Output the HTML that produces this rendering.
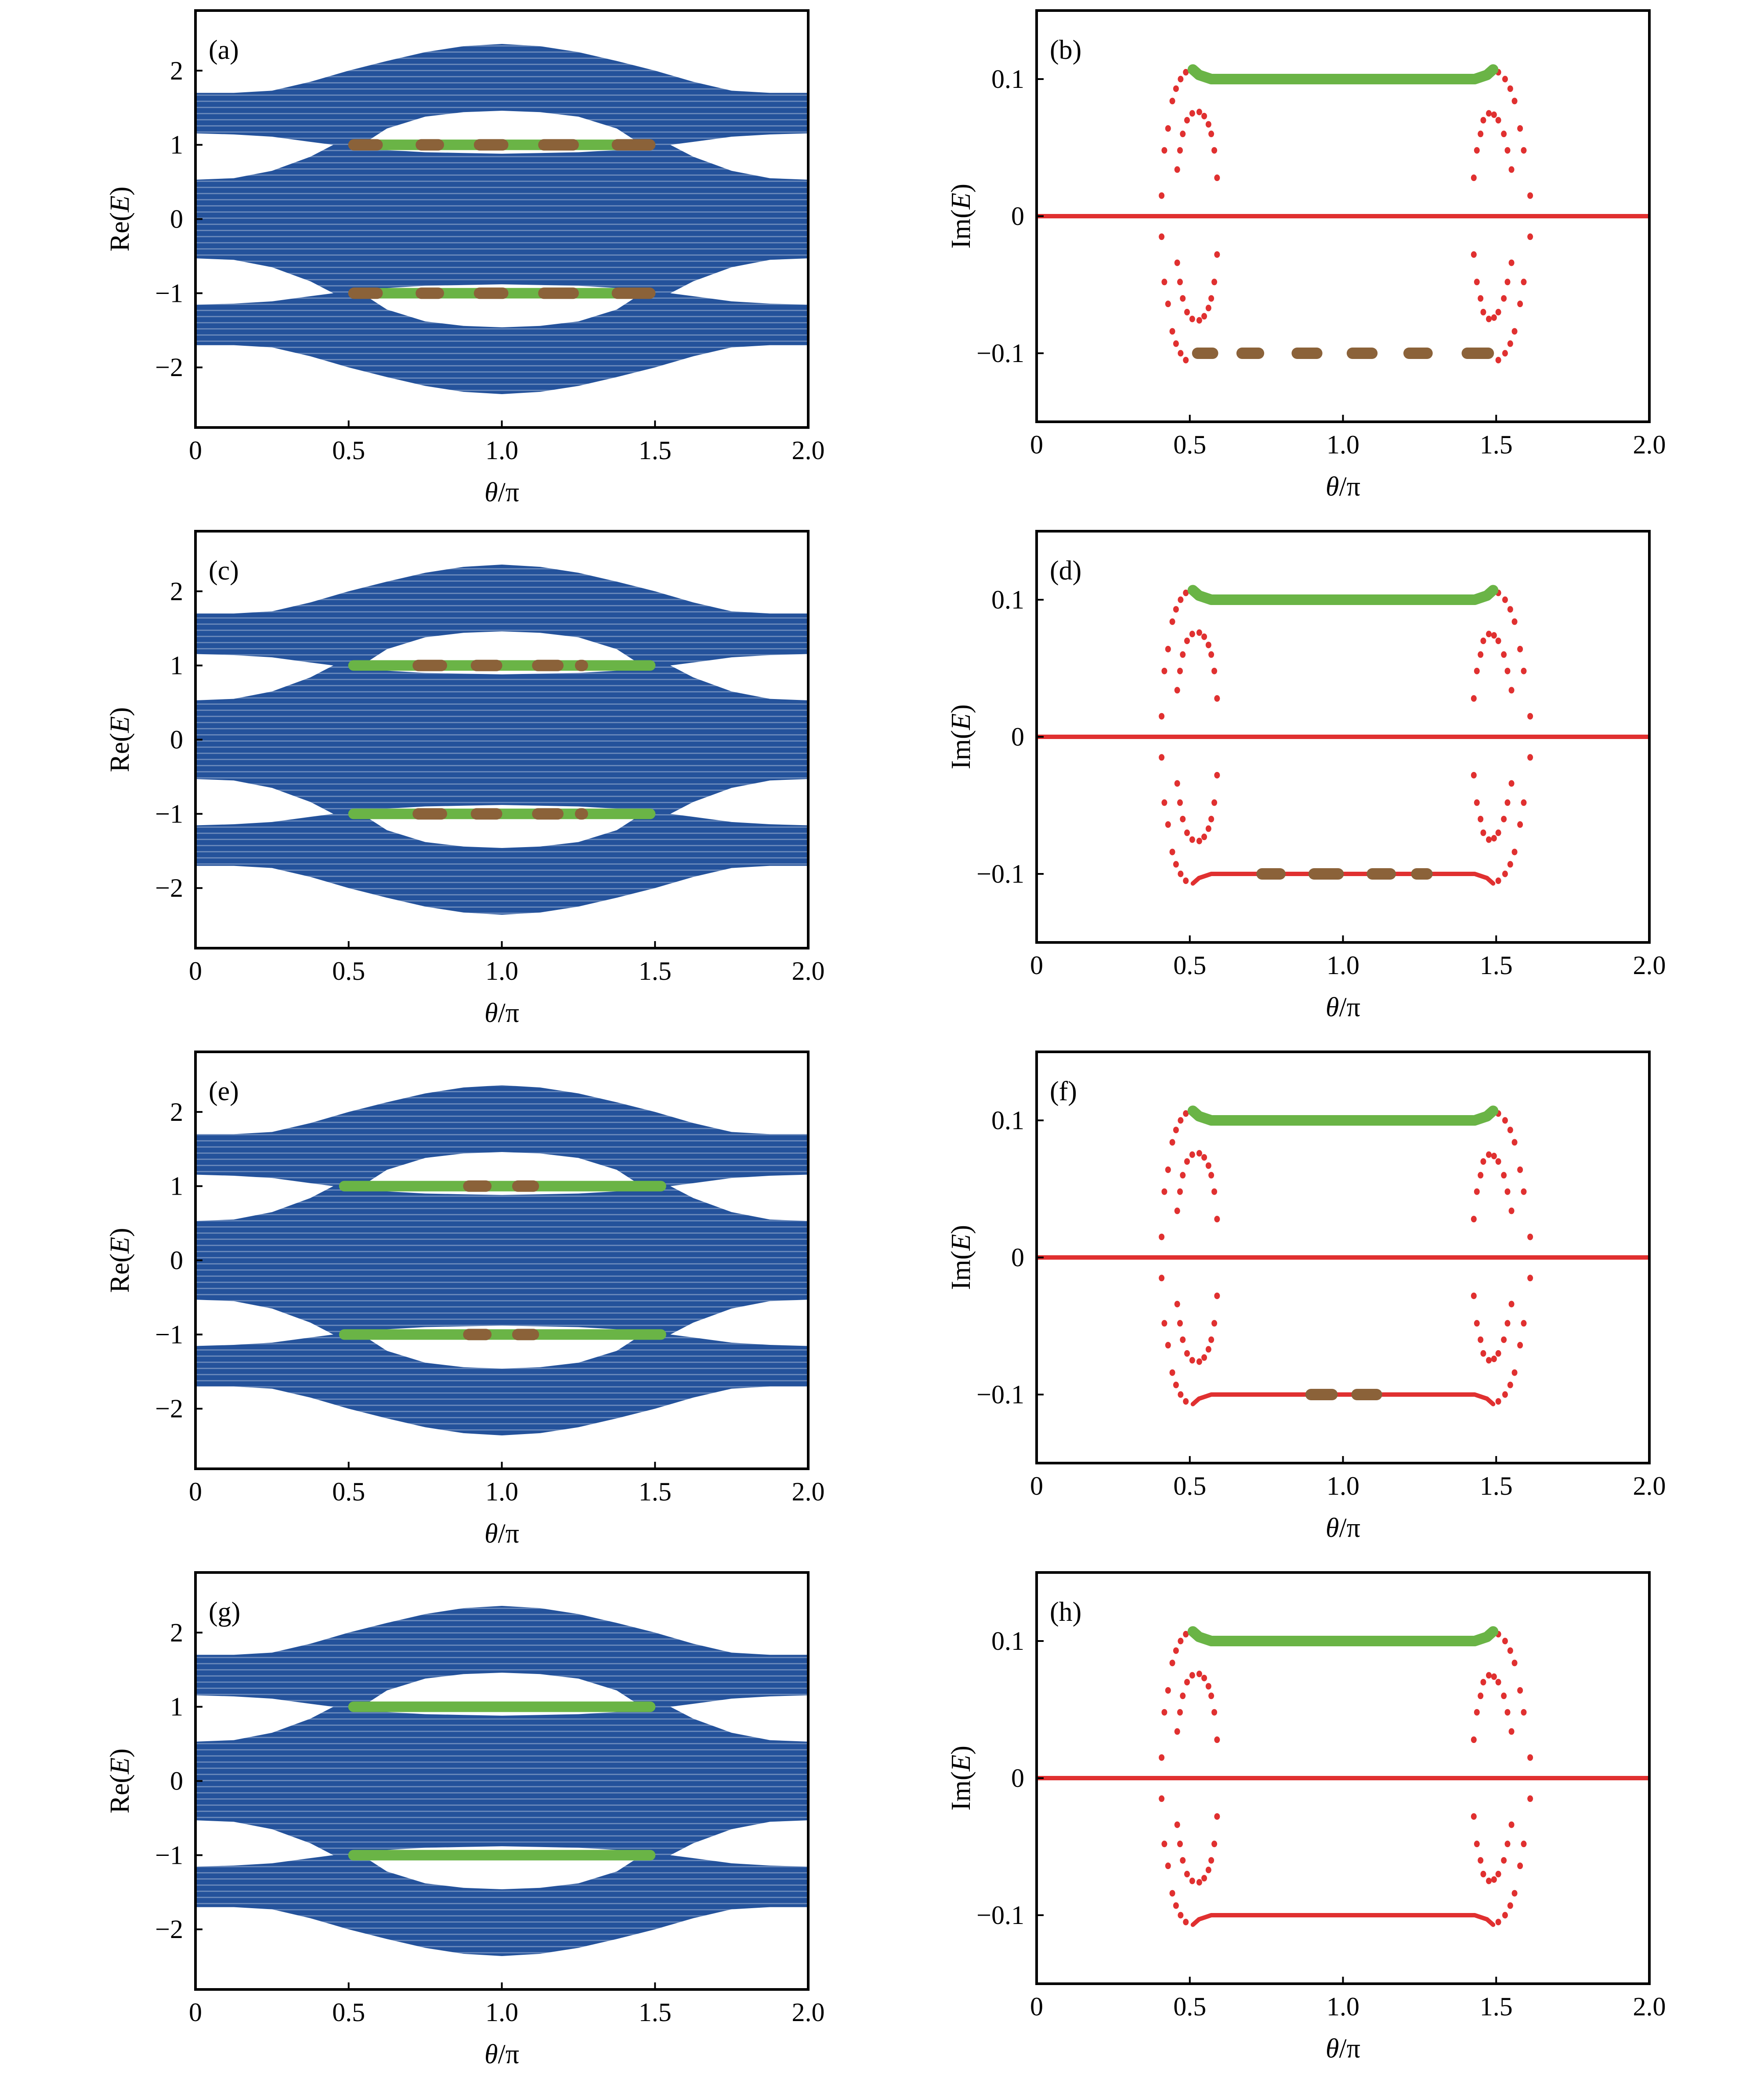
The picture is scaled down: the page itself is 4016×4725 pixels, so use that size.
<!DOCTYPE html>
<html><head><meta charset="utf-8"><style>
html,body{margin:0;padding:0;background:#fff;}
svg{display:block;}
text{font-family:"Liberation Serif","DejaVu Serif",serif;fill:#000;}
</style></head><body>
<svg id="fig" xmlns="http://www.w3.org/2000/svg" width="4016" height="4725" viewBox="0 0 4016 4725"></svg>
<script>
// ---- Re(E) band envelope data (upper half; spectrum is symmetric in E) ----
const envTheta = [0,0.125,0.25,0.375,0.5,0.625,0.75,0.875,1,1.125,1.25,1.375,1.5,1.625,1.75,1.875,2];
const envTop   = [1.70,1.70,1.73,1.85,2.0,2.13,2.25,2.33,2.36,2.33,2.25,2.13,2.0,1.85,1.73,1.70,1.70];
const gapLTheta = [0,0.125,0.25,0.375,0.45];
const gapRTheta = [2,1.875,1.75,1.625,1.55];
const gapTop = [1.155,1.14,1.11,1.04,1.0];
const gapBot = [0.53,0.55,0.65,0.84,1.0];
const lensTheta = [0.55,0.625,0.75,0.875,1,1.125,1.25,1.375,1.45];
const lensTop = [1.02,1.22,1.38,1.44,1.46,1.44,1.38,1.22,1.02];
const lensBot = [0.97,0.93,0.90,0.89,0.88,0.89,0.90,0.93,0.97];
// green edge-state bars (theta start/end) per left panel
const greenBars = [[0.5,1.5],[0.5,1.5],[0.47,1.535],[0.5,1.5]];
// brown segments per left panel
const brownA = [[0.50,0.61],[0.72,0.81],[0.91,1.02],[1.12,1.25],[1.36,1.50]];
const brownC = [[0.71,0.82],[0.90,1.0],[1.10,1.20],[1.24,1.28]];
const brownE = [[0.875,0.965],[1.035,1.12]];
const brownG = [];
// ---- Im(E) data ----
const outerLTheta = [0.487,0.47,0.455,0.443,0.429,0.417,0.408];
const outerRTheta = [1.507,1.529,1.546,1.560,1.578,1.590,1.611];
const outerIm = [0.105,0.100,0.093,0.084,0.064,0.048,0.015];
const innerLTheta = [0.459,0.468,0.477,0.491,0.508,0.531,0.547,0.561,0.570,0.580,0.589];
const innerLIm = [0.034,0.048,0.060,0.070,0.075,0.076,0.073,0.067,0.060,0.048,0.028];
const innerRTheta = [1.427,1.437,1.449,1.458,1.476,1.493,1.507,1.525,1.537,1.550];
const innerRIm = [0.028,0.048,0.060,0.070,0.075,0.074,0.070,0.060,0.048,0.034];
const flatTheta = [0.51,0.53,0.57,1.43,1.47,1.49];
const flatIm = [0.107,0.103,0.100,0.100,0.103,0.107];
const brownB = [[0.51,0.59],[0.655,0.74],[0.835,0.93],[1.015,1.11],[1.20,1.29],[1.39,1.49]];
const brownD = [[0.72,0.81],[0.89,1.0],[1.08,1.17],[1.225,1.29]];
const brownF = [[0.88,0.98],[1.03,1.125]];
const brownH = [];
const showLowerRed = [false,true,true,true];
const xTicks = [0,0.5,1.0,1.5,2.0];
const xTickLabels = ["0","0.5","1.0","1.5","2.0"];
const reTicks = [-2,-1,0,1,2];
const reTickLabels = ["\u22122","\u22121","0","1","2"];
const imTicks = [-0.1,0,0.1];
const imTickLabels = ["\u22120.1","0","0.1"];
const leftLetters = ["(a)","(c)","(e)","(g)"];
const rightLetters = ["(b)","(d)","(f)","(h)"];

const NS = "http://www.w3.org/2000/svg";
const svg = document.getElementById('fig');
const BLUE="#24529b", GREEN="#6ab446", BROWN="#8b6239", RED="#e03030";
function mk(tag, attrs, parent){
  const e=document.createElementNS(NS,tag);
  for(const k in attrs) e.setAttribute(k,attrs[k]);
  (parent||svg).appendChild(e); return e;
}
function poly(pts){return pts.map(p=>p[0].toFixed(1)+","+p[1].toFixed(1)).join(" ");}

function axesFrame(g, x0,x1,y0,y1, xs, ys, yt, ytl, yLabel, letter){
  xTicks.forEach((t,i)=>{
    const X=xs(t);
    if(i>0&&i<xTicks.length-1){
      const tk=mk('line',{x1:X,x2:X,y1:y1,y2:y1-16,stroke:'#000','stroke-width':4},g);
      
      
    }
    const tl=mk('text',{x:X,y:y1+72,'font-size':60,'text-anchor':'middle'},g);
    tl.textContent=xTickLabels[i];
    
    
  });
  yt.forEach((t,i)=>{
    const Y=ys(t);
    const tk=mk('line',{x1:x0,x2:x0+16,y1:Y,y2:Y,stroke:'#000','stroke-width':4},g);
    
    
    const tl=mk('text',{x:x0-28,y:Y+20,'font-size':60,'text-anchor':'end'},g);
    tl.textContent=ytl[i];
    
    
  });
  const fr=mk('rect',{x:x0,y:y0,width:x1-x0,height:y1-y0,fill:'none',stroke:'#000','stroke-width':6},g);
  
  
  const xl=mk('text',{x:(x0+x1)/2,y:y1+168,'font-size':62,'text-anchor':'middle'},g);
  xl.innerHTML='<tspan font-style="italic">θ</tspan>/π';
  
  
  const yc=(y0+y1)/2, yx=x0-172;
  const yl=mk('text',{x:yx,y:yc+20,'font-size':62,'text-anchor':'middle',transform:`rotate(-90 ${yx} ${yc})`},g);
  yl.innerHTML=yLabel+'(<tspan font-style="italic">E</tspan>)';
  
  
  const pl=mk('text',{x:x0+30,y:y0+110,'font-size':62},g);
  pl.textContent=letter;
  
  
}

const defs=mk('defs',{});
const pat=mk('pattern',{id:'stripes',width:40,height:14,patternUnits:'userSpaceOnUse'},defs);
mk('rect',{x:0,y:5,width:40,height:3,fill:'#fff',opacity:0.3},pat);

const brownLeft=[brownA,brownC,brownE,brownG];
const brownRight=[brownB,brownD,brownF,brownH];

for(let r=0;r<4;r++){
  const dy=r*1185;
  const gL=mk('g',{});
  
  
  const lx0=445,lx1=1840,ly0=24+dy,ly1=973+dy;
  const xs=t=>lx0+(t/2)*(lx1-lx0);
  const ys=e=>ly0+(2.81-e)/5.62*(ly1-ly0);
  const top=envTheta.map((t,i)=>[xs(t),ys(envTop[i])]);
  const bot=envTheta.map((t,i)=>[xs(t),ys(-envTop[i])]).reverse();
  const band=mk('polygon',{points:poly(top.concat(bot)),fill:BLUE},gL);
  
  
  const str=mk('polygon',{points:poly(top.concat(bot)),fill:'url(#stripes)'},gL);
  
  
  [1,-1].forEach(s=>{
    [gapLTheta,gapRTheta].forEach(gt=>{
      const a=gt.map((t,i)=>[xs(t),ys(s*gapTop[i])]);
      const b=gt.map((t,i)=>[xs(t),ys(s*gapBot[i])]).reverse();
      const gp=mk('polygon',{points:poly(a.concat(b)),fill:'#fff'},gL);
      
      
    });
    const a=lensTheta.map((t,i)=>[xs(t),ys(s*lensTop[i])]);
    const b=lensTheta.map((t,i)=>[xs(t),ys(s*lensBot[i])]).reverse();
    const ln=mk('polygon',{points:poly(a.concat(b)),fill:'#fff'},gL);
    
    
    const gb=greenBars[r];
    const gl=mk('line',{x1:xs(gb[0])+11,x2:xs(gb[1])-11,y1:ys(s),y2:ys(s),stroke:GREEN,'stroke-width':24,'stroke-linecap':'round'},gL);
    
    
    brownLeft[r].forEach(seg=>{
      const bl=mk('line',{x1:xs(seg[0])+12,x2:xs(seg[1])-12,y1:ys(s),y2:ys(s),stroke:BROWN,'stroke-width':26,'stroke-linecap':'round'},gL);
      
      
    });
  });
  axesFrame(gL,lx0,lx1,ly0,ly1,xs,ys,reTicks,reTickLabels,'Re',leftLetters[r]);

  const gR=mk('g',{});
  
  
  const rx0=2360,rx1=3755,ry0=24+dy,ry1=960+dy;
  const xr=t=>rx0+(t/2)*(rx1-rx0);
  const yr=v=>ry0+(0.15-v)/0.30*(ry1-ry0);
  const z=mk('line',{x1:xr(0),x2:xr(2),y1:yr(0),y2:yr(0),stroke:RED,'stroke-width':10},gR);
  
  
  [1,-1].forEach(s=>{
    const dots=[];
    outerLTheta.forEach((t,i)=>dots.push([t,s*outerIm[i]]));
    outerRTheta.forEach((t,i)=>dots.push([t,s*outerIm[i]]));
    innerLTheta.forEach((t,i)=>dots.push([t,s*innerLIm[i]]));
    innerRTheta.forEach((t,i)=>dots.push([t,s*innerRIm[i]]));
    dots.forEach(d=>{
      const c=mk('ellipse',{cx:xr(d[0]),cy:yr(d[1]),rx:6.5,ry:7.5,fill:RED},gR);
      
      
    });
    if(s>0 || showLowerRed[r]){
      const pts=flatTheta.map((t,i)=>[xr(t),yr(s*flatIm[i])]);
      const fl=mk('polyline',{points:poly(pts),fill:'none',stroke:s>0?GREEN:RED,'stroke-width':s>0?24:10,'stroke-linejoin':'round','stroke-linecap':'round'},gR);
      
      
    }
  });
  brownRight[r].forEach(seg=>{
    const bl=mk('line',{x1:xr(seg[0])+11,x2:xr(seg[1])-11,y1:yr(-0.1),y2:yr(-0.1),stroke:BROWN,'stroke-width':26,'stroke-linecap':'round'},gR);
    
    
  });
  axesFrame(gR,rx0,rx1,ry0,ry1,xr,yr,imTicks,imTickLabels,'Im',rightLetters[r]);
}
</script>
</body></html>
